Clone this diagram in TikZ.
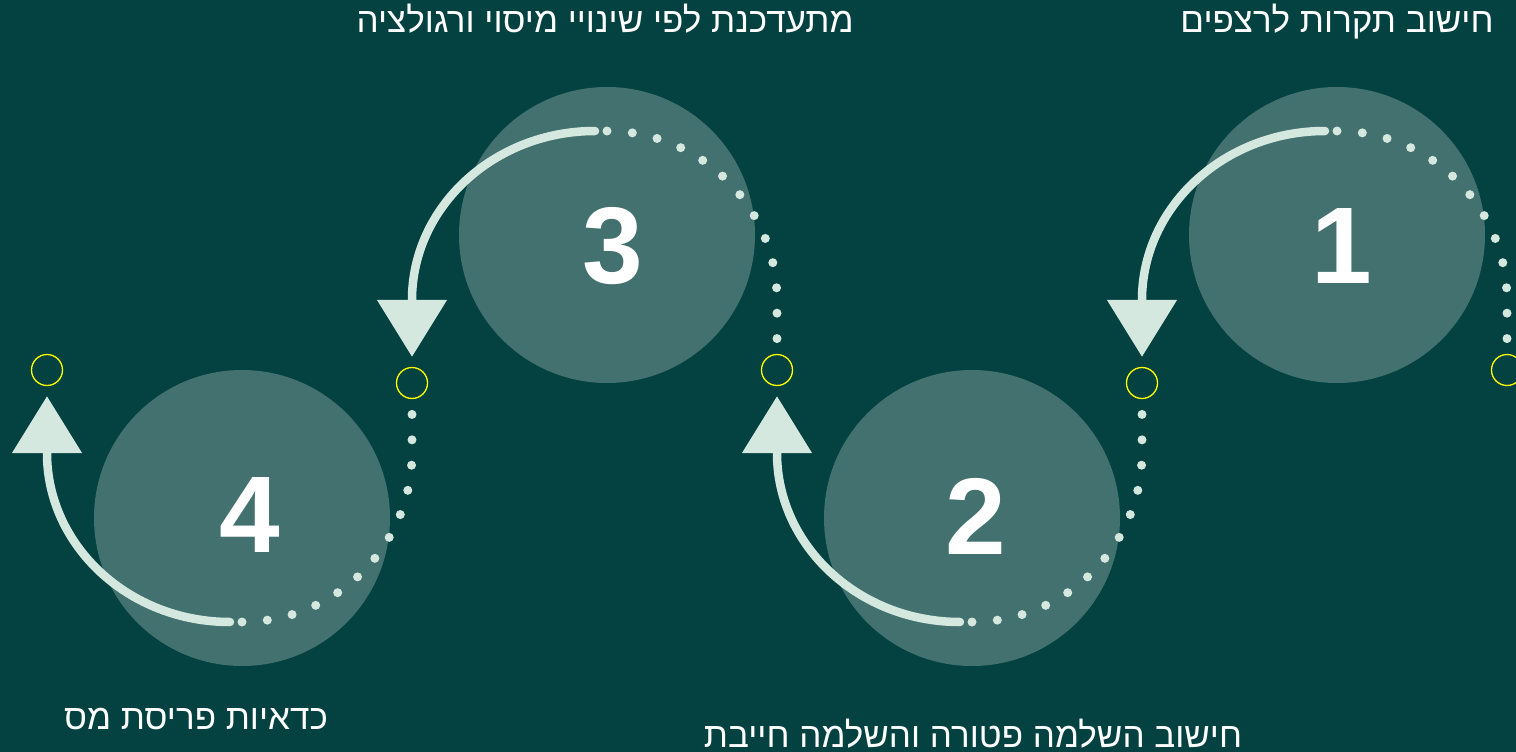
\documentclass[tikz,border=0pt]{standalone}
\usepackage{fontspec}
\usepackage{tikz}
\usetikzlibrary{arrows.meta}
\TeXXeTstate=1
\newfontfamily\hebfont[Script=Hebrew]{Liberation Sans}
\definecolor{bg}{HTML}{034240}
\definecolor{disc}{HTML}{43716F}
\definecolor{pale}{HTML}{D5E8E0}
\definecolor{pinc}{HTML}{FFFF00}
\definecolor{text}{HTML}{FFFFFF}
\tikzset{
  disc/.style={circle, fill=disc, minimum size=296pt, inner sep=0pt},
  num/.style={text=text, inner sep=0pt, font=\hebfont\bfseries\fontsize{109}{109}\selectfont},
  pin/.style={circle, draw=pinc, line width=1.3pt, minimum size=31pt, inner sep=0pt},
  flow/.style={draw=pale, line width=8.5pt, line cap=round, shorten >=10pt,
    -{Triangle[length=57pt,width=68pt]}},
  trail/.style={draw=pale, line width=9pt, line cap=round, dash pattern=on 0pt off 25.4pt},
  lab/.style={text=text, anchor=base, inner sep=0pt, font=\hebfont\fontsize{35}{40}\selectfont}
}

\begin{document}
\begin{tikzpicture}[x=1pt,y=-1pt]
  \useasboundingbox (0,0) rectangle (1516,752);
  \fill[bg] (0,0) rectangle (1516,752);

  % circles and numbers
  \node[disc] (c1) at (1337,235) {};
  \node[disc] (c2) at (972,518) {};
  \node[disc] (c3) at (607,235) {};
  \node[disc] (c4) at (242,518) {};
  \node[num] (n1) at (1342,246) {1};
  \node[num] (n2) at (976,516) {2};
  \node[num] (n3) at (613,246) {3};
  \node[num] (n4) at (250,515) {4};

  % yellow pins
  \node[pin] (p1) at (47,370) {};
  \node[pin] (p2) at (412,383) {};
  \node[pin] (p3) at (777,370) {};
  \node[pin] (p4) at (1142,383) {};
  \node[pin] (p5) at (1507,370) {};

  \coordinate (a1) at (1325,131);
  \coordinate (b1) at (1337,131);
  \coordinate (a2) at (960,622);
  \coordinate (b2) at (972,622);
  \coordinate (a3) at (595,131);
  \coordinate (b3) at (607,131);
  \coordinate (a4) at (230,622);
  \coordinate (b4) at (242,622);

  \draw[trail] (b1) .. controls (1432,131) and (1507,208) .. (1507,300) -- (p5);
  \draw[flow] (a1) .. controls (1224,131) and (1142,207) .. (1142,300) -- (p4);
  \draw[trail] (b2) .. controls (1067,622) and (1142,545) .. (1142,453) -- (p4);
  \draw[flow] (a2) .. controls (859,622) and (777,546) .. (777,453) -- (p3);
  \draw[trail] (b3) .. controls (702,131) and (777,208) .. (777,300) -- (p3);
  \draw[flow] (a3) .. controls (494,131) and (412,207) .. (412,300) -- (p2);
  \draw[trail] (b4) .. controls (337,622) and (412,545) .. (412,453) -- (p2);
  \draw[flow] (a4) .. controls (129,622) and (47,546) .. (47,453) -- (p1);

  % labels
  \node[lab] (t1) at (1337,33) {\beginR חישוב תקרות לרצפים\endR};
  \node[lab] (t3) at (605,33) {\beginR מתעדכנת לפי שינויי מיסוי ורגולציה\endR};
  \node[lab] (t4) at (196,729) {\beginR כדאיות פריסת מס\endR};
  \node[lab] (t2) at (973,747) {\beginR חישוב השלמה פטורה והשלמה חייבת\endR};
\end{tikzpicture}
\end{document}
